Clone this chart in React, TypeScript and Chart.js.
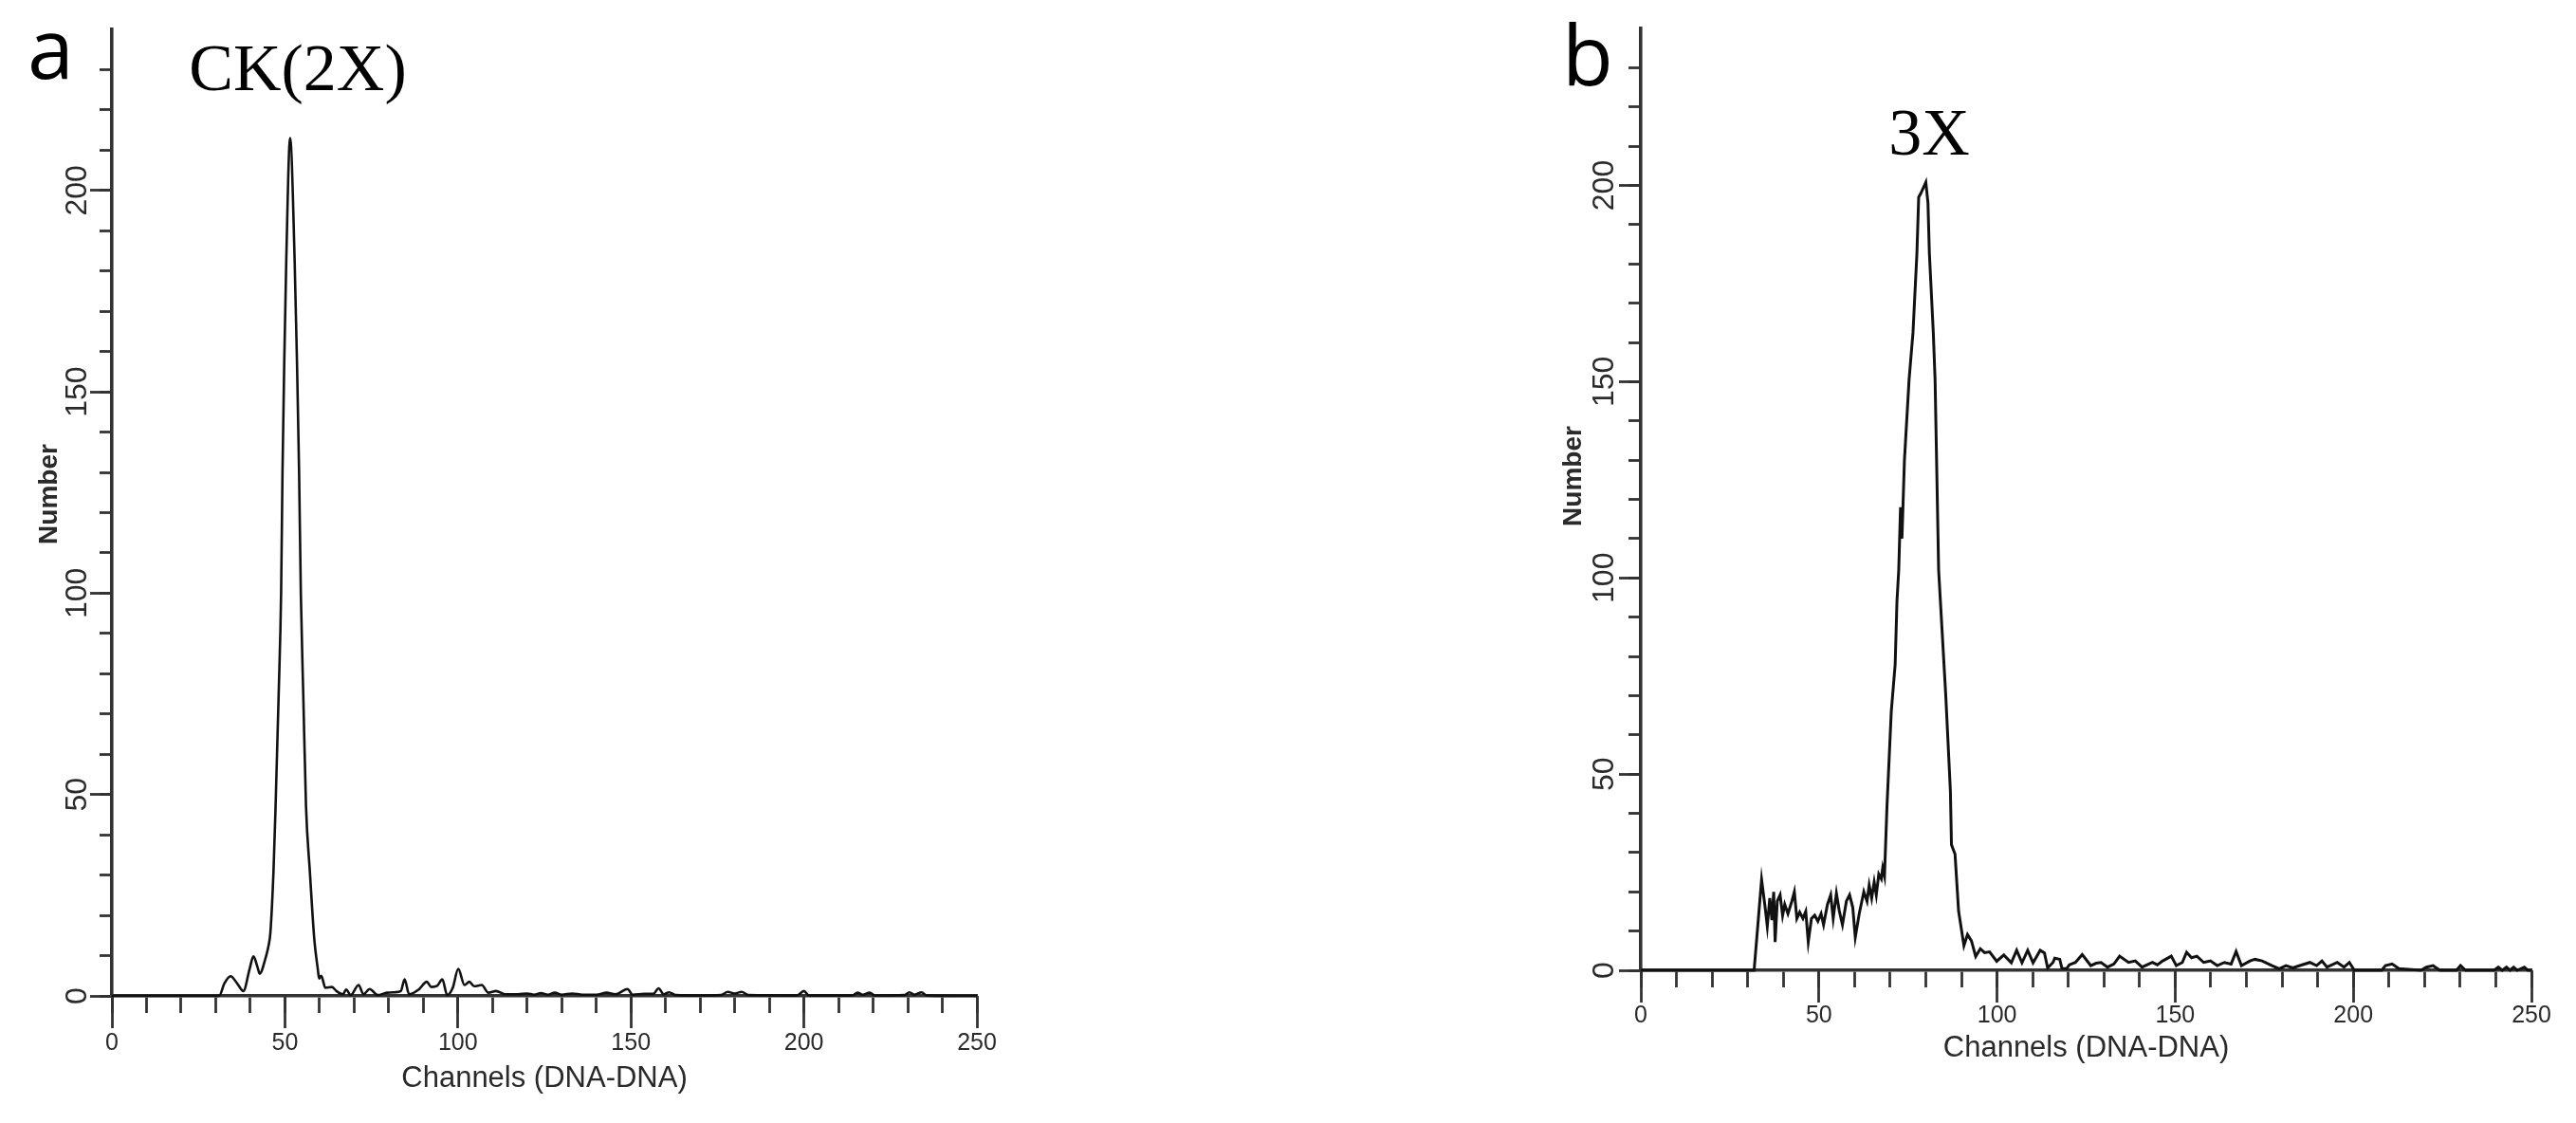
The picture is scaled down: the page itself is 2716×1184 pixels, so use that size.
import React, { useEffect, useRef } from 'react';
import { Chart, registerables } from 'chart.js';

Chart.register(...registerables);

// ---------------- data ----------------
const X_MIN = 0;
const X_MAX = 250;
const Y_MIN = 0;
const Y_MAX = 240;
const MINOR_STEP = 10;
const LABEL_STEP = 50;
const X_TITLE = 'Channels (DNA-DNA)';
const Y_TITLE = 'Number';
const PANEL_LETTERS = ['a', 'b'];
const PEAK_LABELS = ['CK(2X)', '3X'];

// Panel a: control (2X)
const channelsA = [
  0, 31, 32.5, 34.3, 36.2, 38, 39.8, 40.9, 42.1, 42.7, 44.4, 45.3, 45.8, 46.7, 47.3, 48.2, 48.9, 49.3, 49.8, 50.4,
  51.5, 52.8, 53.5, 54.1, 54.6, 55.3, 56.1, 57.2, 58.5, 59.5, 59.9, 60.5, 61.7, 63.6, 64.9, 66.8, 67.7, 69, 71.3, 72.7,
  74.5, 76.8, 79.5, 81.8, 83.5, 84.6, 85.9, 88.7, 91, 92.3, 94, 95.5, 96.9, 98.5, 100.1, 101.9, 103.3, 104.7, 106.9, 108.8,
  111, 113.8, 117.4, 120, 122, 124, 126, 128, 130, 133, 136, 140, 143, 145.5, 149, 150.5, 154, 156.5, 158, 159.5,
  161, 163, 170, 176, 178, 180, 182, 184, 198, 200, 201.5, 214, 215.5, 217, 219, 220.5, 229, 230.5, 232, 234,
  235.5, 250,
];
const countsA = [
  0, 0, 3.1, 4.9, 3.1, 1.2, 6.7, 9.8, 7.1, 5.5, 9.4, 12.6, 15.7, 31, 47, 75, 100, 130, 157, 183,
  213, 183, 157, 130, 100, 75, 47, 31, 14, 6.7, 4.3, 5, 2, 2.2, 1.2, 0.4, 1.6, 0.2, 2.7, 0.4,
  1.7, 0.2, 0.8, 0.9, 1.2, 4.1, 0.4, 1.6, 3.5, 2.2, 2.5, 4.1, 0.2, 2, 6.7, 2.7, 3.5, 2.4, 2.7, 0.8,
  1.2, 0.4, 0.4, 0.6, 0.3, 0.7, 0.3, 0.8, 0.3, 0.6, 0.3, 0.3, 0.8, 0.4, 1.7, 0.3, 0.5, 0.5, 1.9, 0.4,
  0.9, 0.2, 0.1, 0.2, 1, 0.6, 1, 0.2, 0.1, 1.2, 0.1, 0.1, 0.8, 0.3, 0.8, 0.1, 0.2, 0.9, 0.3, 0.9,
  0.1, 0,
];

// Panel b: triploid (3X)
const channelsB = [
  0, 31.8, 33.9, 34.9, 35.5, 36.2, 36.8, 37.3, 37.7, 38.3, 39.1, 39.8, 40.4, 41.3, 42.4, 43.1, 43.8, 44.6, 45.5, 46.3,
  47, 47.9, 48.8, 49.7, 50.6, 51.3, 52.4, 53.3, 54, 54.9, 55.7, 56.6, 57.7, 58.6, 59.5, 60.2, 61.3, 62.6, 63.5, 64.1,
  64.8, 65.5, 66.1, 66.8, 67.5, 67.9, 68.4, 69.1, 70.3, 71.4, 71.9, 72.4, 72.9, 73.3, 74, 75.3, 76.4, 77.5, 78, 78.6,
  80, 80.6, 81, 82.1, 82.6, 83.6, 84.6, 85.6, 86.9, 87.2, 88.2, 89.2, 90.7, 91.7, 92.8, 94, 95.3, 96.5, 97.9, 99.9,
  101.9, 104, 105.5, 107, 108.6, 110.1, 112.1, 113.3, 114.2, 115.7, 116.2, 117.6, 118.2, 119.5, 120.3, 122, 123.9, 126.3, 127.8, 129.2,
  131, 132.8, 134.4, 136.9, 138.8, 140.7, 143.6, 145, 146.5, 148.9, 150.3, 152, 153.2, 154.6, 156.1, 158, 159.9, 161.8, 163.8, 165.7,
  167.1, 168.6, 171, 172.4, 174.4, 177.2, 179.2, 181.1, 183, 185, 187.8, 189.7, 191.2, 192.6, 195.5, 197.4, 198.9, 200.3, 208, 209,
  210.9, 212.8, 219, 220.5, 222.4, 224.3, 229, 230.1, 231.5, 239.5, 240.7, 241.8, 243, 244, 245, 246, 248, 249, 250,
];
const countsB = [
  0, 0, 23.1, 16, 11.2, 18.4, 12.8, 20, 7.2, 17.6, 19.2, 14, 16.8, 14.4, 17.6, 20, 13.2, 14.8, 13.2, 15,
  7.2, 13.2, 14, 12.5, 14.4, 11.6, 16.8, 19.2, 13.2, 19.6, 15.2, 11.6, 17.6, 19.2, 16, 8.4, 14.4, 20, 17.6, 21.7,
  18.4, 22.5, 19.2, 24.5, 23.3, 26.1, 24, 41.8, 65.9, 78, 94, 102, 118, 110, 130, 150.5, 162.5, 182.7, 197, 198,
  200.8, 195.6, 182.7, 162.5, 150.5, 102, 86, 70, 45.7, 32, 29.6, 15.1, 6.3, 9.1, 7.5, 3.5, 5.5, 4.5, 4.7, 2.3,
  3.9, 1.9, 5.1, 1.9, 5.1, 1.9, 5.1, 4.4, 0.6, 2, 3.1, 2.8, 0.5, 0.4, 1.4, 2, 4, 1.2, 1.8, 2,
  0.8, 1.6, 3.6, 2, 2.4, 0.8, 2, 1.4, 2.4, 3.6, 1.2, 2, 4.6, 3.2, 3.6, 2, 2.4, 1.2, 2, 1.6,
  4.8, 1.2, 2.4, 2.8, 2.4, 1.2, 0.4, 1.2, 0.6, 1.2, 2, 1.2, 2.4, 0.8, 2, 0.8, 2, 0, 0, 1.2,
  1.6, 0.4, 0, 0.8, 1.2, 0, 0, 1.2, 0, 0, 0.8, 0, 0.8, 0, 0.8, 0, 0.8, 0, 0,
];

// ---------------- styling ----------------
const AXIS_COLOR = '#333333';
const LINE_COLOR = '#111111';
const TEXT_COLOR = '#2a2a2a';
const X_MINOR_LEN = 18;
const X_MAJOR_LEN = 34;
const Y_MINOR_LEN = 13;
const Y_MAJOR_LEN = 23;
const AXIS_WIDTH = 3.6;
const TICK_WIDTH = 2.8;

function fontAvailable(name: string): boolean {
  const c = document.createElement('canvas').getContext('2d');
  if (!c) return false;
  const sample = 'Channels 0123456789 DNA';
  c.font = '40px monospace';
  const w1 = c.measureText(sample).width;
  c.font = `40px "${name}", monospace`;
  const w2 = c.measureText(sample).width;
  return Math.abs(w1 - w2) > 0.5;
}

const overlayText = {
  id: 'overlayText',
  afterDraw(chart: any, _args: any, opts: any) {
    const ctx = chart.ctx;
    for (const it of (opts && opts.items) || []) {
      ctx.save();
      ctx.font = it.font;
      ctx.fillStyle = it.color || '#000';
      ctx.textAlign = it.align || 'left';
      ctx.textBaseline = it.baseline || 'alphabetic';
      ctx.translate(it.x, it.y);
      if (it.rotate) ctx.rotate(it.rotate);
      ctx.fillText(it.text, 0, 0);
      ctx.restore();
    }
  },
};

type Spec = {
  channels: number[];
  counts: number[];
  smooth: boolean;
  lineWidth: number;
  padLeft: number;
  padTop: number;
  padRight: number;
  yAxisWidth: number;
  xAxisHeight: number;
  xLabelOffset: number; // axis -> tick-label centre
  yLabelOffset: number; // axis -> tick-label centre
  xTitleOffset: number; // axis -> title centre
  items: any[];
};

function buildConfig(spec: Spec, fonts: any): any {
  const xTickPad = spec.xLabelOffset - X_MINOR_LEN - (fonts.tickH.size * 1.2) / 2;
  const yTickPad = spec.yLabelOffset - Y_MINOR_LEN - fonts.widestY / 2;
  const xTitlePad = spec.xAxisHeight - spec.xTitleOffset - (fonts.titleH.size * 1.2) / 2;
  const labelCb = (v: any) => (Number(v) % LABEL_STEP === 0 ? String(v) : '');
  return {
    type: 'line',
    data: {
      datasets: [
        {
          data: spec.channels.map((c, i) => ({ x: c, y: spec.counts[i] })),
          borderColor: LINE_COLOR,
          borderWidth: spec.lineWidth,
          pointRadius: 0,
          fill: false,
          tension: 0,
          cubicInterpolationMode: spec.smooth ? 'monotone' : 'default',
          clip: false,
          xAxisID: 'x',
          yAxisID: 'y',
        },
      ],
    },
    options: {
      responsive: false,
      animation: false,
      events: [],
      layout: { padding: { left: spec.padLeft, top: spec.padTop, right: spec.padRight, bottom: 0 } },
      plugins: {
        legend: { display: false },
        tooltip: { enabled: false },
        overlayText: { items: spec.items },
      },
      scales: {
        x: {
          type: 'linear',
          position: 'bottom',
          weight: 0,
          min: X_MIN,
          max: X_MAX,
          ticks: {
            stepSize: MINOR_STEP,
            autoSkip: false,
            maxTicksLimit: 1000,
            minRotation: 0,
            maxRotation: 0,
            padding: xTickPad,
            color: TEXT_COLOR,
            font: fonts.tickH,
            callback: labelCb,
          },
          grid: {
            drawOnChartArea: false,
            drawTicks: true,
            tickLength: X_MINOR_LEN,
            tickWidth: TICK_WIDTH,
            tickColor: AXIS_COLOR,
          },
          border: { display: true, color: AXIS_COLOR, width: AXIS_WIDTH },
          title: {
            display: true,
            text: X_TITLE,
            color: TEXT_COLOR,
            font: fonts.titleH,
            padding: { top: 0, bottom: xTitlePad },
          },
          afterFit: (s: any) => {
            s.height = spec.xAxisHeight;
          },
        },
        x2: {
          type: 'linear',
          position: 'bottom',
          weight: -1,
          min: X_MIN,
          max: X_MAX,
          ticks: { stepSize: LABEL_STEP, display: false, autoSkip: false },
          grid: {
            drawOnChartArea: false,
            drawTicks: true,
            tickLength: X_MAJOR_LEN,
            tickWidth: TICK_WIDTH,
            tickColor: AXIS_COLOR,
          },
          border: { display: false },
          afterBuildTicks: (s: any) => {
            s.ticks = s.ticks.filter((t: any) => t.value % LABEL_STEP === 0);
          },
          afterFit: (s: any) => {
            s.height = 0;
          },
        },
        y: {
          type: 'linear',
          position: 'left',
          weight: 0,
          min: Y_MIN,
          max: Y_MAX,
          ticks: {
            stepSize: MINOR_STEP,
            autoSkip: false,
            maxTicksLimit: 1000,
            minRotation: 90,
            maxRotation: 90,
            crossAlign: 'center',
            padding: yTickPad,
            color: TEXT_COLOR,
            font: fonts.tickV,
            callback: labelCb,
          },
          grid: {
            drawOnChartArea: false,
            drawTicks: true,
            tickLength: Y_MINOR_LEN,
            tickWidth: TICK_WIDTH,
            tickColor: AXIS_COLOR,
          },
          border: { display: true, color: AXIS_COLOR, width: AXIS_WIDTH },
          afterBuildTicks: (s: any) => {
            s.ticks = s.ticks.filter((t: any) => t.value < Y_MAX);
          },
          afterFit: (s: any) => {
            s.width = spec.yAxisWidth;
          },
        },
        y2: {
          type: 'linear',
          position: 'left',
          weight: -1,
          min: Y_MIN,
          max: Y_MAX,
          ticks: { stepSize: LABEL_STEP, display: false, autoSkip: false },
          grid: {
            drawOnChartArea: false,
            drawTicks: true,
            tickLength: Y_MAJOR_LEN,
            tickWidth: TICK_WIDTH,
            tickColor: AXIS_COLOR,
          },
          border: { display: false },
          afterBuildTicks: (s: any) => {
            s.ticks = s.ticks.filter((t: any) => t.value % LABEL_STEP === 0);
          },
          afterFit: (s: any) => {
            s.width = 0;
          },
        },
      },
    },
    plugins: [overlayText],
  };
}

export default function App() {
  const refA = useRef<HTMLCanvasElement>(null);
  const refB = useRef<HTMLCanvasElement>(null);

  useEffect(() => {
    const narrow = fontAvailable('Liberation Sans Narrow');
    const hFamily = narrow
      ? '"Liberation Sans Narrow", "Liberation Sans", Arial, sans-serif'
      : '"Liberation Sans", Arial, sans-serif';
    const vFamily = '"Liberation Sans", Arial, sans-serif';
    const tickV = { family: vFamily, size: 32 };
    const m = document.createElement('canvas').getContext('2d')!;
    m.font = `${tickV.size}px ${vFamily}`;
    const widestY = m.measureText('200').width;
    const fonts = {
      tickH: { family: hFamily, size: narrow ? 30 : 25 },
      titleH: { family: hFamily, size: narrow ? 37 : 31 },
      tickV,
      widestY,
    };
    const letterFont = '88px "Open Sans", "Liberation Sans", sans-serif';
    const peakFont = '70px "Liberation Serif", "Times New Roman", serif';
    const yTitleFont = `bold 28px ${vFamily}`;

    const specA: Spec = {
      channels: channelsA,
      counts: countsA,
      smooth: true,
      lineWidth: 2.6,
      padLeft: 0,
      padTop: 31,
      padRight: 270,
      yAxisWidth: 118,
      xAxisHeight: 134,
      xLabelOffset: 50,
      yLabelOffset: 36,
      xTitleOffset: 87,
      items: [
        { text: PANEL_LETTERS[0], x: 29, y: 83, font: letterFont, color: '#000' },
        { text: PEAK_LABELS[0], x: 314, y: 95, font: peakFont, align: 'center', color: '#000' },
        { text: Y_TITLE, x: 52, y: 521, font: yTitleFont, align: 'center', baseline: 'middle', rotate: -Math.PI / 2, color: TEXT_COLOR },
      ],
    };
    const specB: Spec = {
      channels: channelsB,
      counts: countsB,
      smooth: false,
      lineWidth: 3,
      padLeft: 212,
      padTop: 30,
      padRight: 47,
      yAxisWidth: 118,
      xAxisHeight: 161,
      xLabelOffset: 48,
      yLabelOffset: 38,
      xTitleOffset: 82,
      items: [
        { text: PANEL_LETTERS[1], x: 247, y: 90, font: letterFont, color: '#000' },
        { text: PEAK_LABELS[1], x: 634, y: 163, font: peakFont, align: 'center', color: '#000' },
        { text: Y_TITLE, x: 259, y: 502, font: yTitleFont, align: 'center', baseline: 'middle', rotate: -Math.PI / 2, color: TEXT_COLOR },
      ],
    };

    const charts = [
      new Chart(refA.current as HTMLCanvasElement, buildConfig(specA, fonts)),
      new Chart(refB.current as HTMLCanvasElement, buildConfig(specB, fonts)),
    ];
    return () => charts.forEach((c) => c.destroy());
  }, []);

  return (
    <div
      style={{
        position: 'absolute',
        left: 0,
        top: 0,
        width: 2716,
        height: 1184,
        background: '#ffffff',
        overflow: 'hidden',
      }}
    >
      <canvas ref={refA} width={1300} height={1184} style={{ position: 'absolute', left: 0, top: 0 }} />
      <canvas ref={refB} width={1316} height={1184} style={{ position: 'absolute', left: 1400, top: 0 }} />
    </div>
  );
}
